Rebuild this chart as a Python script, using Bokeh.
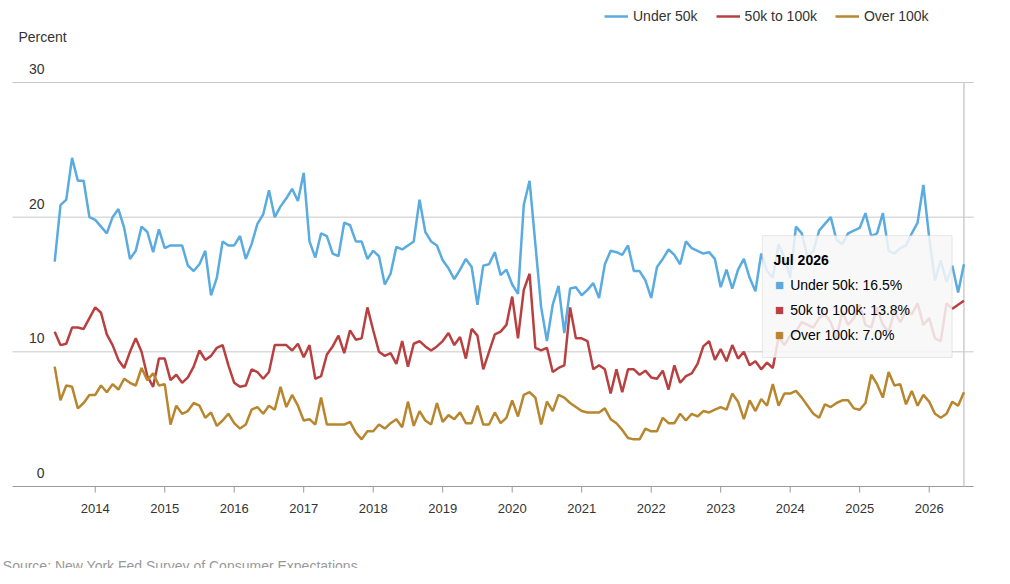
from bokeh.plotting import figure
from bokeh.models import FixedTicker, Legend, LegendItem, Label, BoxAnnotation, ColumnDataSource
from bokeh.embed import file_html
from bokeh.resources import INLINE

under_50k = [16.7,20.9,21.3,24.4,22.7,22.7,20.0,
 19.8,19.3,18.8,20.0,20.6,19.2,16.9,17.5,19.3,18.9,17.4,19.1,
 17.7,17.9,17.9,17.9,16.4,16.0,16.5,17.5,14.2,15.5,18.2,17.9,
 17.9,18.6,16.9,18.0,19.5,20.2,22.0,20.0,20.8,21.4,22.1,21.2,
 23.3,18.2,17.0,18.8,18.6,17.3,17.1,19.6,19.4,18.2,18.2,16.9,
 17.5,17.1,15.0,15.8,17.8,17.6,17.9,18.2,21.3,18.9,18.2,17.9,
 16.8,16.2,15.4,16.1,16.9,16.3,13.5,16.4,16.5,17.4,15.7,16.1,
 15.0,14.3,20.9,22.7,18.0,13.3,10.8,13.5,14.9,11.4,14.7,14.8,
 14.2,14.6,15.1,14.0,16.5,17.5,17.4,17.2,17.9,16.0,16.0,15.3,
 14.0,16.3,16.9,17.6,17.2,16.5,18.2,17.7,17.5,17.3,17.4,16.9,
 14.8,16.1,14.7,16.1,16.9,15.5,14.5,17.3,16.0,15.5,18.0,17.0,
 15.5,19.3,18.8,17.0,17.5,19.0,19.5,20.0,18.3,18.0,18.8,19.0,
 19.2,20.3,18.6,18.8,20.3,17.5,17.3,17.7,17.9,18.8,19.6,22.4,
 18.5,15.3,16.8,15.2,16.4,14.4,16.5]
mid_50k_100k = [11.5,10.5,10.6,11.8,11.8,11.7,12.5,
 13.3,12.9,11.3,10.5,9.4,8.8,10.0,11.0,10.0,8.2,7.4,9.5,
 9.5,7.9,8.3,7.7,8.1,8.9,10.1,9.4,9.7,10.3,10.5,9.0,
 7.7,7.4,7.5,8.7,8.5,8.0,8.5,10.5,10.5,10.5,10.1,10.6,
 9.6,10.5,8.0,8.2,9.8,10.4,11.2,9.9,11.6,10.9,11.0,13.3,
 11.6,10.0,9.7,9.9,9.1,10.8,8.9,10.6,10.8,10.4,10.1,10.4,
 10.8,11.4,10.5,11.1,9.5,11.7,11.2,8.7,10.0,11.3,11.5,12.0,
 14.1,11.0,14.6,15.8,10.3,10.1,10.3,8.5,8.8,9.0,13.3,11.0,
 11.0,10.8,8.7,9.0,8.7,6.9,8.7,7.0,8.7,8.7,8.3,8.6,
 8.1,8.0,8.6,7.2,9.0,7.7,8.2,8.4,9.1,10.4,10.8,9.4,
 10.2,9.3,10.5,9.5,10.0,9.0,9.3,8.7,9.2,8.8,11.1,10.5,
 11.2,11.5,12.2,12.0,11.8,12.5,12.8,12.2,11.0,13.0,12.0,12.5,
 13.5,12.0,11.8,13.3,12.0,11.5,13.0,12.2,13.0,12.8,13.6,12.0,
 12.5,11.0,10.8,13.6,13.2,13.5,13.8]
over_100k = [8.9,6.4,7.5,7.4,5.8,6.2,6.8,
 6.8,7.5,7.0,7.6,7.2,8.0,7.7,7.5,8.8,7.9,8.4,7.5,
 7.6,4.6,6.0,5.4,5.6,6.2,6.0,5.1,5.5,4.5,4.9,5.4,
 4.7,4.3,4.6,5.7,5.9,5.4,6.0,5.7,7.4,5.9,6.8,6.0,
 4.9,5.0,4.6,6.6,4.6,4.6,4.6,4.6,4.8,4.0,3.5,4.1,
 4.1,4.6,4.3,4.7,5.0,4.4,6.3,4.5,5.6,4.9,4.6,6.2,
 4.8,5.3,5.0,5.5,4.7,4.7,6.0,4.6,4.6,5.5,4.7,5.1,
 6.4,5.2,6.8,7.0,6.6,4.6,6.3,5.6,6.8,6.6,6.2,5.9,
 5.6,5.5,5.5,5.5,5.8,5.0,4.7,4.2,3.6,3.5,3.5,4.3,
 4.1,4.1,5.1,4.7,4.7,5.4,4.9,5.4,5.2,5.6,5.5,5.7,
 5.9,5.7,6.9,6.3,5.0,6.4,5.6,6.5,6.0,7.6,6.0,6.9,
 6.9,7.1,6.6,6.0,5.4,5.1,6.1,5.9,6.2,6.4,6.4,5.8,
 5.7,6.2,8.3,7.6,6.6,8.5,7.5,7.6,6.1,7.1,6.0,6.8,
 6.3,5.4,5.1,5.4,6.3,6.0,7.0]
start_year, start_month = 2013, 6
years = list(range(2014, 2027))
y_ticks = [0, 10, 20, 30]

n = len(under_50k)
x = [start_year + (start_month - 1 + i) / 12 for i in range(n)]
src = ColumnDataSource(dict(x=x, a=under_50k, b=mid_50k_100k, c=over_100k))

FONT = "Liberation Sans"
X0, X1 = 2012.81, 2026.64   # plotting area edges in data units
p = figure(width=994, height=568, output_backend="svg", toolbar_location=None,
           x_range=(2012.637, 2026.94), y_range=(-6.09, 36.09),
           min_border_left=0, min_border_right=0, min_border_top=0, min_border_bottom=0)
p.outline_line_color = None
p.grid.visible = False
p.axis.visible = False

# grid lines and axis
p.segment(x0=[X0] * 3, x1=[X1] * 3, y0=y_ticks[1:], y1=y_ticks[1:], line_color="#c8c8c8", line_width=1)
p.segment(x0=[X0], x1=[X1], y0=[0], y1=[0], line_color="#999999", line_width=1)
p.segment(x0=years, x1=years, y0=[0] * len(years), y1=[-0.45] * len(years), line_color="#999999", line_width=1)
p.text(x=years, y=[-1.63] * len(years), text=[str(yr) for yr in years], text_align="center",
       text_baseline="middle", text_font={"value": FONT}, text_font_size={"value": "13px"}, text_color="#333333")
# crosshair
p.segment(x0=[x[-1]], x1=[x[-1]], y0=[0], y1=[30], line_color="#cccccc", line_width=1.5)

cols = ["#5aabe0", "#b94040", "#b8862e"]
r1 = p.line("x", "a", source=src, color=cols[0], line_width=2.5)
r2 = p.line("x", "b", source=src, color=cols[1], line_width=2.5)
r3 = p.line("x", "c", source=src, color=cols[2], line_width=2.5)

leg = Legend(items=[LegendItem(label="Under 50k", renderers=[r1]),
                    LegendItem(label="50k to 100k", renderers=[r2]),
                    LegendItem(label="Over 100k", renderers=[r3])],
             orientation="horizontal", location=(604, 542), border_line_color=None,
             background_fill_alpha=0, label_text_font=FONT, label_text_font_size="14px",
             label_text_color="#333333", glyph_width=24, spacing=18, padding=0, margin=0)
p.add_layout(leg, "center")

for t in y_ticks:
    p.add_layout(Label(x=2013.27, y=t + 1.0, text=str(t), text_align="right", text_baseline="middle",
                       text_font=FONT, text_font_size="14px", text_color="#333333"))
p.add_layout(Label(x=2012.896, y=33.4, text="Percent", text_baseline="middle",
                   text_font=FONT, text_font_size="14px", text_color="#333333"))
p.add_layout(Label(x=2012.67, y=-5.94, text="Source: New York Fed Survey of Consumer Expectations",
                   text_baseline="middle", text_font=FONT, text_font_size="14px", text_color="#999999"))

p.add_layout(BoxAnnotation(left=2023.60, right=2026.33, bottom=9.58, top=18.63,
                           fill_color="#f7f7f7", fill_alpha=0.85, line_color="#bbbbbb", line_width=1))
p.add_layout(Label(x=2023.76, y=16.85, text="Jul 2026", text_baseline="middle", text_font=FONT,
                   text_font_size="14px", text_font_style="bold", text_color="#000000"))
tips = [("Under 50k", under_50k[-1]), ("50k to 100k", mid_50k_100k[-1]), ("Over 100k", over_100k[-1])]
for (name, v), c, yy in zip(tips, cols, [15.0, 13.14, 11.28]):
    p.add_layout(Label(x=2023.78, y=yy, text="■", text_baseline="middle", text_font=FONT,
                       text_font_size="15px", text_color=c))
    p.add_layout(Label(x=2024.0, y=yy, text=f"{name}: {v:.1f}%", text_baseline="middle", text_font=FONT,
                       text_font_size="14px", text_color="#000000"))

open("out.html", "w").write(file_html(p, INLINE))
